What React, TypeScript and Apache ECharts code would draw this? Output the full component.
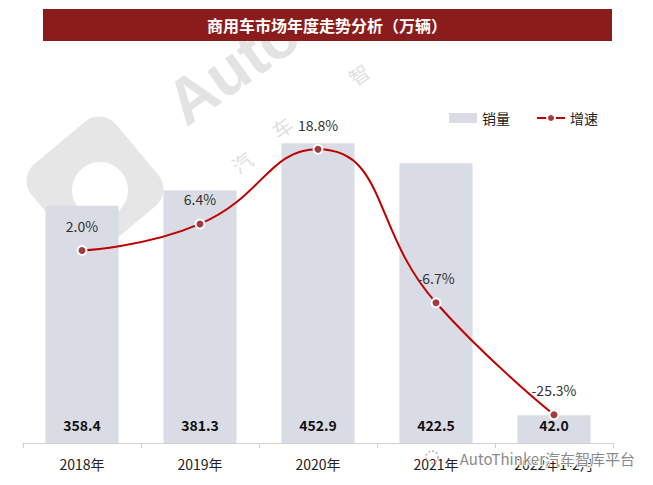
import React, { useEffect, useRef } from "react";
import * as echarts from "echarts";

const categories = ["2018年", "2019年", "2020年", "2021年", "2022年1-2月"];
const salesValues = [358.4, 381.3, 452.9, 422.5, 42.0];
const growthValues = [2.0, 6.4, 18.8, -6.7, -25.3];
const titleText = "商用车市场年度走势分析（万辆）";
const seriesNames = ["销量", "增速"];
const watermarkText = "AutoThinker汽车智库平台";

export default function App() {
  const ref = useRef<HTMLDivElement>(null);
  useEffect(() => {
    const chart = echarts.init(ref.current!, null, { renderer: "svg" });
    const font = '"Noto Sans CJK SC", "Microsoft YaHei", sans-serif';
    chart.setOption({
      animation: false,
      backgroundColor: "#ffffff",
      textStyle: { fontFamily: font },
      graphic: [
        {
          type: "group",
          silent: true,
          z: -10,
          children: [
            {
              type: "rect",
              x: 95,
              y: 185,
              rotation: Math.PI / 4.5,
              shape: { x: -55, y: -55, width: 110, height: 110, r: 22 },
              style: { fill: "#e6e6e6" },
            },
            {
              type: "circle",
              shape: { cx: 100, cy: 190, r: 28 },
              style: { fill: "#ffffff" },
            },
            {
              type: "text",
              x: 192,
              y: 136,
              rotation: 0.62,
              style: {
                text: "Auto",
                fontSize: 64,
                fontWeight: "bold",
                fontFamily: "Arial, Liberation Sans, sans-serif",
                fill: "#e3e3e3",
                textVerticalAlign: "bottom",
              },
            },
            {
              type: "text",
              x: 228,
              y: 160,
              rotation: 0.62,
              style: { text: "汽", fontSize: 20, fill: "#e0e0e0", fontFamily: font },
            },
            {
              type: "text",
              x: 268,
              y: 125,
              rotation: 0.62,
              style: { text: "车", fontSize: 20, fill: "#e0e0e0", fontFamily: font },
            },
            {
              type: "text",
              x: 345,
              y: 72,
              rotation: 0.62,
              style: { text: "智", fontSize: 20, fill: "#e0e0e0", fontFamily: font },
            },
          ],
        },
        {
          type: "rect",
          z: 10,
          shape: { x: 43, y: 9, width: 569, height: 32 },
          style: { fill: "#8B1C1C" },
        },
        {
          type: "text",
          z: 11,
          x: 327,
          y: 25,
          style: {
            text: titleText,
            fill: "#ffffff",
            fontSize: 16,
            fontWeight: "bold",
            fontFamily: font,
            textAlign: "center",
            textVerticalAlign: "middle",
          },
        },
        {
          type: "text",
          z: 20,
          x: 635,
          y: 458,
          style: {
            text: watermarkText,
            fill: "#8a8a8a",
            stroke: "#ffffff",
            lineWidth: 2,
            fontSize: 15,
            fontFamily: font,
            textAlign: "right",
            textVerticalAlign: "middle",
          },
        },
        {
          type: "circle",
          z: 20,
          shape: { cx: 432, cy: 457, r: 6 },
          style: { fill: "none", stroke: "#b0b0b0", lineWidth: 1.5, lineDash: [2, 2] },
        },
      ],
      legend: {
        top: 106,
        right: 50,
        itemGap: 26,
        itemWidth: 28,
        itemHeight: 10,
        textStyle: { fontSize: 14, color: "#222", fontFamily: font },
        data: [
          { name: seriesNames[0], icon: "rect" },
          { name: seriesNames[1] },
        ],
      },
      grid: { left: 23, right: 40, top: 112, bottom: 42, containLabel: false },
      xAxis: {
        type: "category",
        data: categories,
        boundaryGap: true,
        axisLine: { lineStyle: { color: "#d0d0d0" } },
        axisTick: { show: true, length: 5, lineStyle: { color: "#d0d0d0" } },
        axisLabel: { fontSize: 14, color: "#222", margin: 14, fontFamily: font, interval: 0 },
      },
      yAxis: [
        { type: "value", min: 0, max: 500, show: false, splitLine: { show: false } },
        { type: "value", min: -30, max: 25, show: false, splitLine: { show: false } },
      ],
      series: [
        {
          name: seriesNames[0],
          type: "bar",
          data: salesValues,
          barWidth: "62%",
          itemStyle: { color: "#D9DCE5" },
          label: {
            show: true,
            position: "insideBottom",
            distance: 11,
            fontSize: 14,
            fontWeight: "bold",
            color: "#111",
            fontFamily: font,
            formatter: (p: any) => p.value.toFixed(1),
          },
        },
        {
          name: seriesNames[1],
          type: "line",
          yAxisIndex: 1,
          data: growthValues,
          smooth: 0.5,
          symbol: "circle",
          symbolSize: 9,
          lineStyle: { color: "#C00000", width: 2 },
          itemStyle: { color: "#A33A3E", borderColor: "#ffffff", borderWidth: 2 },
          label: {
            show: true,
            position: "top",
            distance: 12,
            fontSize: 14,
            color: "#333",
            fontFamily: font,
            formatter: (p: any) => p.value.toFixed(1) + "%",
          },
          z: 5,
        },
      ],
    });
    return () => chart.dispose();
  }, []);
  return (
    <div
      ref={ref}
      style={{ position: "fixed", left: 0, top: 0, width: 653, height: 485 }}
    />
  );
}
